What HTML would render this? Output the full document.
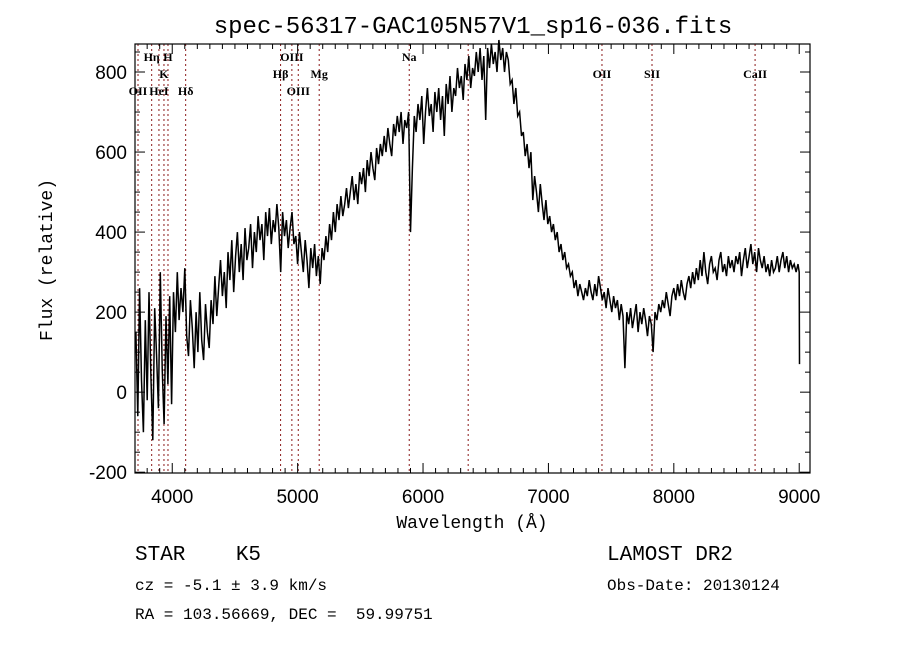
<!DOCTYPE html>
<html><head><meta charset="utf-8"><style>
html,body{margin:0;padding:0;background:#fff;}
svg{display:block;}
.mono{font-family:"Liberation Mono",monospace;}
.lab{font-family:"Liberation Serif",serif;font-size:12px;font-weight:bold;}
.tick{font-family:"Liberation Sans",sans-serif;font-size:19px;}
</style></head><body>
<svg id="chart" width="900" height="649" viewBox="0 0 900 649" xmlns="http://www.w3.org/2000/svg">
<rect width="900" height="649" fill="#fff"/>
<text class="mono" x="473" y="33" font-size="24" text-anchor="middle">spec-56317-GAC105N57V1_sp16-036.fits</text>
<g id="lines"></g>
<g id="ticks"></g>
<path id="spec" fill="none" stroke="#000" stroke-width="1.5"/>
<rect x="135" y="44" width="675" height="429" fill="none" stroke="#000" stroke-width="1.2"/>
<text class="mono" x="472" y="528" font-size="18" text-anchor="middle">Wavelength (Å)</text>
<text class="mono" x="52" y="260" font-size="18" text-anchor="middle" transform="rotate(-90 52 260)">Flux (relative)</text>
<text class="mono" x="135" y="560" font-size="21" xml:space="preserve">STAR    K5</text>
<text class="mono" x="607" y="560" font-size="21">LAMOST DR2</text>
<text class="mono" x="135" y="590" font-size="16" xml:space="preserve">cz = -5.1 ± 3.9 km/s</text>
<text class="mono" x="607" y="590" font-size="16">Obs-Date: 20130124</text>
<text class="mono" x="135" y="619" font-size="16" xml:space="preserve">RA = 103.56669, DEC =  59.99751</text>
</svg>
<script>
const wlStart = 3710;
const wlStep = 15;
const flux = [
150,-60,260,30,-100,180,-20,250,40,-120,210,90,-40,300,60,-80,190,20,240,-30,
250,150,300,180,260,200,310,140,90,230,160,60,200,100,250,130,80,220,150,110,
230,170,290,190,260,330,240,300,210,350,280,380,250,340,400,300,370,280,410,330,
360,420,310,400,350,440,380,420,330,450,390,460,370,430,400,470,410,300,450,390,
430,360,410,450,370,390,320,400,350,300,380,330,260,360,310,370,290,340,270,360,
330,390,350,420,380,450,400,470,430,490,440,470,510,460,500,540,480,520,470,550,
520,560,500,580,540,600,560,530,610,570,620,590,640,600,660,620,590,670,640,690,
650,700,620,680,660,700,400,560,690,650,720,680,740,620,700,760,690,720,650,750,
700,760,680,740,640,770,720,790,700,760,740,810,760,790,730,820,780,840,760,810,
790,850,800,860,780,840,680,860,810,870,820,850,800,880,830,860,800,850,830,770,
780,720,760,690,700,640,650,590,620,560,600,480,540,500,450,520,470,430,480,420,
440,400,420,380,400,350,370,330,350,310,320,290,300,260,280,240,270,250,230,260,
240,280,250,230,270,240,290,260,230,250,210,260,230,200,240,210,230,180,220,190,
60,200,170,210,160,190,220,150,200,170,210,180,140,190,170,100,200,180,220,200,
230,210,250,220,190,240,260,230,270,240,280,250,230,270,290,260,300,270,310,280,
330,290,350,300,270,320,340,300,310,280,330,350,300,320,290,340,310,330,300,340,
320,350,290,330,360,310,340,370,320,350,300,360,330,310,340,300,320,290,330,300,
310,340,300,330,350,310,340,300,330,310,320,300,320];
const tailWl = [9000, 9002];
const tailFlux = [300, 70];
const lineWl = [3727,3836,3894,3934,3966,4107,4864,4954,5005,5172,5890,6360,7427,7826,8648];
const lineNames = ["OII","Hη","HeI","K","H","Hδ","Hβ","OIII","OIII","Mg","Na","","OII","SII","CaII"];
const lineRow = [3,1,3,2,1,3,2,1,3,2,1,0,2,2,2];
const xTicks = [4000,5000,6000,7000,8000,9000];
const yTicks = [-200,0,200,400,600,800];

const X0=135,X1=810,Y0=44,Y1=473;
const xMin=3703,xMax=9086,yMin=-202,yMax=870;
const sx=w=>X0+(w-xMin)/(xMax-xMin)*(X1-X0);
const sy=f=>Y1-(f-yMin)/(yMax-yMin)*(Y1-Y0);
const NS="http://www.w3.org/2000/svg";
function mk(tag,attrs,parent){const e=document.createElementNS(NS,tag);for(const k in attrs)e.setAttribute(k,attrs[k]);parent.appendChild(e);return e;}

const lg=document.getElementById('lines');
const rowY=[0,61,78,95];
lineWl.forEach((w,i)=>{
  const l=mk('line',{x1:sx(w),x2:sx(w),y1:Y0,y2:Y1,stroke:'#8b1a1a','stroke-width':1,'stroke-dasharray':'2,3'},lg);
  
  
  if(lineNames[i]){
    const t=mk('text',{x:sx(w),y:rowY[lineRow[i]],'text-anchor':'middle','class':'lab'},lg);
    t.textContent=lineNames[i];
    
    
  }
});

const tg=document.getElementById('ticks');
for(let w=3800;w<=9000;w+=100){
  const major=w%1000===0;const L=major?10:5;
  mk('line',{x1:sx(w),x2:sx(w),y1:Y1,y2:Y1-L,stroke:'#000'},tg);
  mk('line',{x1:sx(w),x2:sx(w),y1:Y0,y2:Y0+L,stroke:'#000'},tg);
}
xTicks.forEach(w=>{
  const t=mk('text',{x:sx(w),y:Y1+30,'text-anchor':'middle','class':'tick'},tg);
  t.textContent=w;
  
  
});
for(let f=-200;f<=850;f+=50){
  const major=f%200===0;const L=major?10:5;
  mk('line',{x1:X0,x2:X0+L,y1:sy(f),y2:sy(f),stroke:'#000'},tg);
  mk('line',{x1:X1,x2:X1-L,y1:sy(f),y2:sy(f),stroke:'#000'},tg);
}
yTicks.forEach(f=>{
  const t=mk('text',{x:X0-8,y:sy(f)+7,'text-anchor':'end','class':'tick'},tg);
  t.textContent=f;
  
  
});

let d='';
flux.forEach((f,i)=>{const w=wlStart+i*wlStep;d+=(i?'L':'M')+sx(w).toFixed(1)+','+sy(f).toFixed(1);});
tailWl.forEach((w,i)=>{d+='L'+sx(w).toFixed(1)+','+sy(tailFlux[i]).toFixed(1);});
document.getElementById('spec').setAttribute('d',d);
</script>
</body></html>
